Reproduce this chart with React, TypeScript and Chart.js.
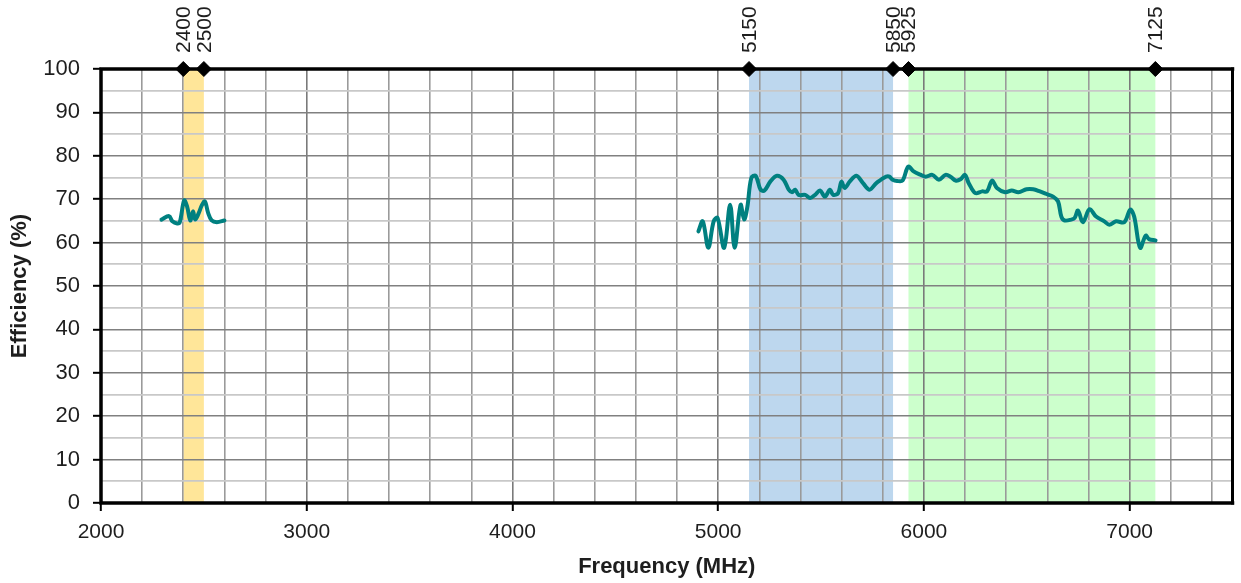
import React, { useEffect, useRef } from "react";
import { Chart, registerables } from "chart.js";

Chart.register(...registerables);

// Measured efficiency, 2.4 GHz band
const lowBandFreq = [2294, 2331, 2347, 2370, 2383, 2404, 2418, 2434, 2447, 2458, 2475, 2491, 2505, 2521, 2538, 2563, 2600];
const lowBandEff = [65.3, 66.1, 64.9, 64.4, 64.7, 69.7, 68.4, 65.1, 67.2, 65.3, 66.8, 68.7, 69.5, 66.8, 65.1, 64.7, 65.1];

// Measured efficiency, 5-7 GHz bands
const highBandFreq = [
  4904, 4925, 4952, 4978, 4997, 5029, 5058, 5080, 5109, 5126, 5142, 5161, 5182, 5206, 5225, 5254,
  5286, 5318, 5343, 5359, 5374, 5391, 5423, 5447, 5471, 5495, 5519, 5543, 5559, 5583, 5599, 5615,
  5640, 5672, 5704, 5736, 5768, 5792, 5816, 5832, 5848, 5870, 5896, 5924, 5950, 5985, 6009, 6041,
  6073, 6105, 6129, 6154, 6178, 6199, 6218, 6250, 6283, 6307, 6331, 6355, 6395, 6427, 6459, 6499,
  6531, 6564, 6596, 6628, 6652, 6668, 6684, 6716, 6733, 6749, 6773, 6805, 6837, 6877, 6901, 6934,
  6974, 7003, 7022, 7051, 7078, 7094, 7126,
];
const highBandEff = [
  62.6, 64.9, 58.8, 64.9, 65.7, 58.8, 68.7, 58.8, 68.7, 65.3, 68.3, 74.9, 75.4, 72.2, 72.0, 74.1,
  75.4, 74.5, 72.2, 71.6, 72.2, 71.0, 71.0, 70.3, 71.0, 72.0, 70.6, 72.2, 71.0, 71.4, 74.0, 72.6,
  74.1, 75.4, 73.7, 72.2, 73.7, 74.5, 75.2, 75.2, 74.5, 74.2, 74.3, 77.5, 76.4, 75.6, 75.2, 75.6,
  74.5, 75.6, 75.2, 74.3, 74.6, 75.6, 73.7, 71.4, 71.8, 71.8, 74.3, 72.6, 71.6, 72.0, 71.6, 72.3,
  72.3, 71.8, 71.2, 70.6, 69.5, 66.0, 65.1, 65.3, 65.7, 67.4, 64.7, 67.7, 66.0, 64.9, 64.1, 64.9,
  64.7, 67.6, 66.0, 58.8, 61.6, 60.8, 60.5,
];

// Frequency band edges (MHz), shown as markers on the top border
const bandEdges = [2400, 2500, 5150, 5850, 5925, 7125];
const bandStarts = [2400, 5150, 5925];
const bandEnds = [2500, 5850, 7125];
const bandFills = ["#FFE699", "#BDD7EE", "#CCFFCC"];

// Axis ranges and ticks
const xMin = 2000;
const xMax = 7500;
const xStep = 200;
const xLabelStep = 1000;
const yMin = 0;
const yMax = 100;
const yStep = 5;
const yLabelStep = 10;

const FONT = "'Liberation Sans', Arial, sans-serif";
const TEXT = "#1e1e1e";

const range = (a: number, b: number, s: number) => {
  const out: number[] = [];
  for (let v = a; v <= b + 1e-9; v += s) out.push(v);
  return out;
};

const bandsPlugin = {
  id: "bands",
  beforeDraw(chart: any) {
    const { ctx, chartArea, scales } = chart;
    const x = scales.x;
    ctx.save();
    bandStarts.forEach((s, i) => {
      const x0 = x.getPixelForValue(s);
      const x1 = x.getPixelForValue(bandEnds[i]);
      ctx.fillStyle = bandFills[i];
      ctx.fillRect(x0, chartArea.top, x1 - x0, chartArea.bottom - chartArea.top);
    });
    ctx.restore();
  },
};

const framePlugin = {
  id: "frame",
  beforeDatasetsDraw(chart: any) {
    const { ctx, chartArea } = chart;
    const { left, right, top, bottom } = chartArea;
    ctx.save();
    ctx.strokeStyle = "#000";
    ctx.lineCap = "square";
    ctx.lineWidth = 3.5;
    ctx.beginPath();
    ctx.moveTo(right, top);
    ctx.lineTo(left, top);
    ctx.lineTo(left, bottom);
    ctx.lineTo(right, bottom);
    ctx.stroke();
    ctx.lineWidth = 3;
    ctx.beginPath();
    ctx.moveTo(right, top);
    ctx.lineTo(right, bottom);
    ctx.stroke();
    ctx.restore();
  },
};

const edgeLabelsPlugin = {
  id: "edgeLabels",
  afterDraw(chart: any) {
    const { ctx, chartArea, scales } = chart;
    const x = scales.x;
    ctx.save();
    ctx.fillStyle = TEXT;
    ctx.font = `21px ${FONT}`;
    ctx.textAlign = "left";
    ctx.textBaseline = "middle";
    bandEdges.forEach((f) => {
      const px = x.getPixelForValue(f);
      ctx.save();
      ctx.translate(px + 1, chartArea.top - 16);
      ctx.rotate(-Math.PI / 2);
      ctx.fillText(String(f), 0, 0);
      ctx.restore();
    });
    ctx.restore();
  },
};

export default function App() {
  const canvasRef = useRef<HTMLCanvasElement | null>(null);

  useEffect(() => {
    if (!canvasRef.current) return;
    const toPoints = (xs: number[], ys: number[]) => xs.map((v, i) => ({ x: v, y: ys[i] }));
    const lineStyle = {
      borderColor: "#008080",
      backgroundColor: "#008080",
      borderWidth: 4,
      tension: 0.35,
      pointRadius: 0,
      borderCapStyle: "round",
      borderJoinStyle: "round",
      fill: false,
    };

    const chart = new Chart(canvasRef.current, {
      type: "line",
      data: {
        datasets: [
          { ...lineStyle, label: "2.4 GHz", data: toPoints(lowBandFreq, lowBandEff) } as any,
          { ...lineStyle, label: "5-7 GHz", data: toPoints(highBandFreq, highBandEff) } as any,
          {
            type: "scatter",
            label: "Band edges",
            data: bandEdges.map((f) => ({ x: f, y: yMax })),
            pointStyle: "rectRot",
            pointRadius: 7.5,
            pointHoverRadius: 7.5,
            backgroundColor: "#000",
            borderColor: "#000",
            borderWidth: 1,
            clip: false,
          } as any,
        ],
      },
      options: {
        responsive: false,
        animation: false,
        events: [],
        layout: { padding: { top: 69, right: 4, left: 0, bottom: 0 } },
        plugins: { legend: { display: false }, tooltip: { enabled: false } },
        scales: {
          x: {
            type: "linear",
            min: xMin,
            max: xMax,
            afterBuildTicks: (s: any) => {
              s.ticks = range(xMin, xMax, xStep).map((v) => ({ value: v }));
            },
            afterFit: (s: any) => {
              s.height = 80;
              s.paddingRight = 0;
              s.paddingLeft = 0;
            },
            border: { display: false },
            grid: {
              color: (c: any) => (c.tick && c.tick.value % xLabelStep === 0 ? "#7a7a7a" : "#9a9a9a"),
              lineWidth: 1.6,
              tickLength: 8,
              tickWidth: 2,
              tickColor: (c: any) =>
                c.tick && c.tick.value % xLabelStep === 0 && c.tick.value < xMax ? "#000" : "rgba(0,0,0,0)",
            },
            ticks: {
              autoSkip: false,
              maxRotation: 0,
              minRotation: 0,
              padding: 9,
              color: TEXT,
              font: { family: FONT, size: 21 },
              callback: (v: any) => (v % xLabelStep === 0 && v < xMax ? String(v) : ""),
            },
            title: {
              display: true,
              text: "Frequency (MHz)",
              color: TEXT,
              font: { family: FONT, size: 22, weight: "bold" },
              padding: { top: 0, bottom: 3 },
            },
          },
          y: {
            type: "linear",
            min: yMin,
            max: yMax,
            afterBuildTicks: (s: any) => {
              s.ticks = range(yMin, yMax, yStep).map((v) => ({ value: v }));
            },
            afterFit: (s: any) => {
              s.width = 101;
              s.paddingTop = 0;
              s.paddingBottom = 0;
            },
            border: { display: false },
            grid: {
              color: (c: any) => (c.tick && c.tick.value % yLabelStep === 0 ? "#808080" : "#c8c8c8"),
              lineWidth: (c: any) => (c.tick && c.tick.value % yLabelStep === 0 ? 1.6 : 1.8),
              tickLength: 8,
              tickWidth: 2,
              tickColor: (c: any) =>
                c.tick && c.tick.value % yLabelStep === 0 ? "#000" : "rgba(0,0,0,0)",
            },
            ticks: {
              autoSkip: false,
              padding: 13,
              color: TEXT,
              font: { family: FONT, size: 22 },
              callback: (v: any) => (v % yLabelStep === 0 ? String(v) : ""),
            },
            title: {
              display: true,
              text: "Efficiency (%)",
              color: TEXT,
              font: { family: FONT, size: 22, weight: "bold" },
              padding: { top: 7, bottom: 0 },
            },
          },
        },
      } as any,
      plugins: [bandsPlugin, framePlugin, edgeLabelsPlugin],
    });

    return () => chart.destroy();
  }, []);

  return (
    <div style={{ position: "fixed", left: 0, top: 0, width: 1241, height: 583, background: "#fff" }}>
      <canvas ref={canvasRef} width={1241} height={583} style={{ display: "block" }} />
    </div>
  );
}
